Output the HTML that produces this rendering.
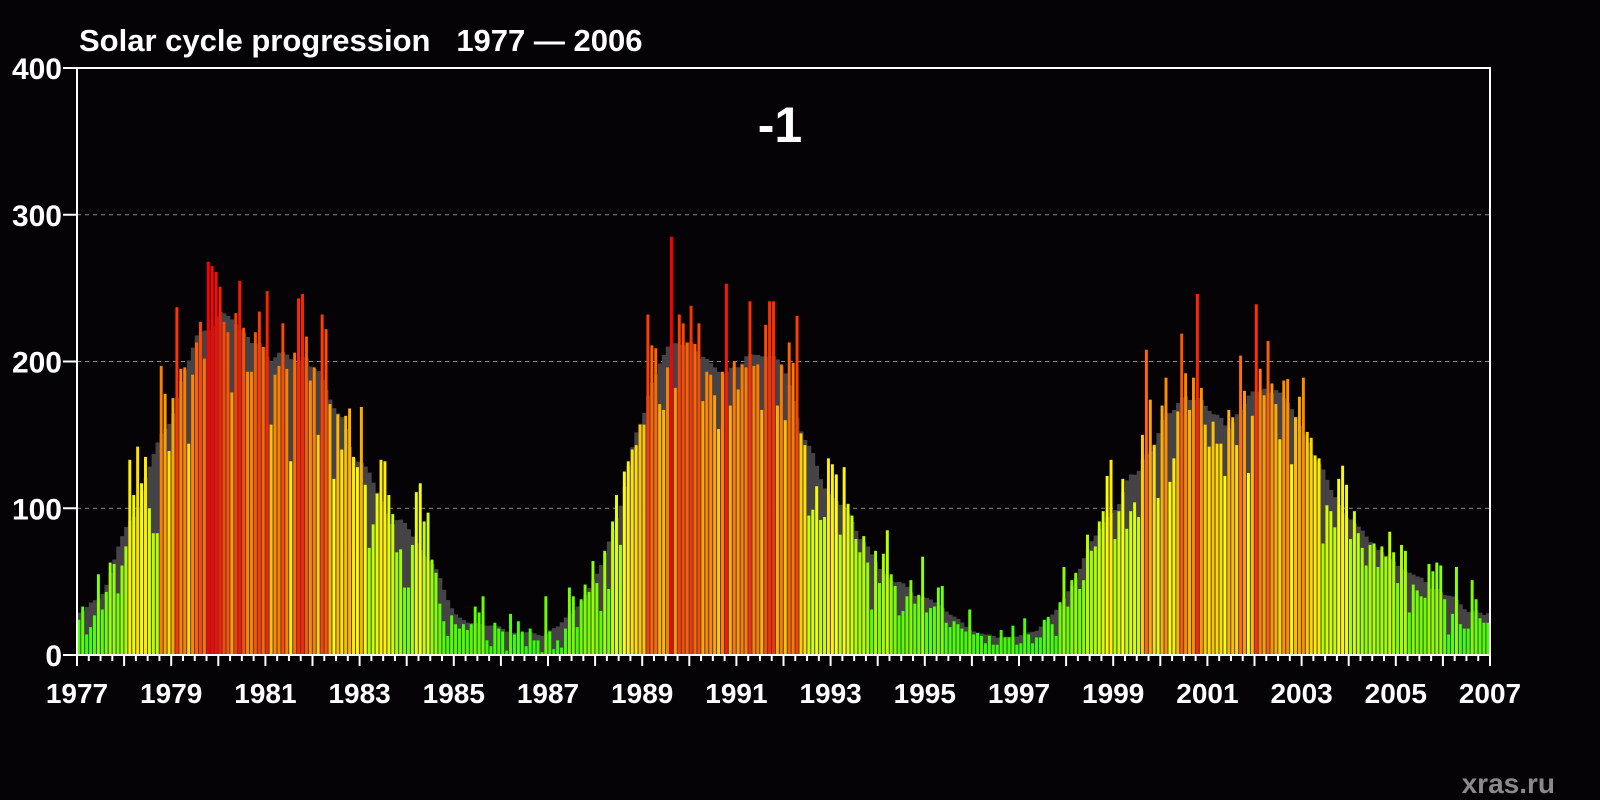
<!DOCTYPE html>
<html><head><meta charset="utf-8"><style>
html,body{margin:0;padding:0;background:#050305;}
svg{display:block;}
text{font-family:"Liberation Sans",sans-serif;font-weight:bold;}
</style></head><body>
<svg id="chart" width="1600" height="800" viewBox="0 0 1600 800">
<rect x="0" y="0" width="1600" height="800" fill="#050305"/>
<text x="79" y="51" fill="#fff" font-size="31" xml:space="preserve">Solar cycle progression   1977 — 2006</text>
<text x="780" y="142" fill="#fff" font-size="50" text-anchor="middle">-1</text>
<text x="1555" y="793" fill="#8a8a8a" font-size="28" text-anchor="end">xras.ru</text>
<g id="grid"></g><g id="smooth"></g><g id="bars"></g><g id="axes"></g>
</svg>
<script>
const seg1=[24,33,14,19,27,55,31,43,63,62,42,61,74,133,109,142,117,135,100,83,83,197,178,139,175,237,195,196,144,191,213,227,202,268,265,261,251,227,220,179,233,255,223,193,193,220,234,210,248,157,191,197,226,195,132,206,243,246,217,187];
const seg2=[196,150,232,222,171,120,164,140,163,168,135,128,169,116,73,89,110,133,132,109,96,70,72,46,46,75,111,117,91,97,65,56,35,23,13,27,21,18,21,17,21,33,29,40,10,6,22,18,16,3,28,14,23,16,6,18,10,10,2,40];
const seg3=[16,4,10,5,18,46,40,19,38,48,43,64,49,30,71,45,91,109,75,125,132,140,143,157,157,232,211,209,171,167,196,285,182,232,226,213,238,212,226,173,193,191,177,154,193,253,170,200,181,198,196,241,197,198,167,225,241,241,170,198];
const seg4=[160,213,199,231,151,143,95,99,115,92,94,134,130,123,82,128,103,95,79,70,81,63,31,71,49,69,85,55,47,27,30,40,51,35,41,67,29,32,33,46,47,22,19,23,21,18,16,31,14,15,13,8,13,7,7,17,12,12,20,7];
const seg5=[8,25,14,8,12,12,24,26,21,13,36,60,33,51,56,45,51,82,71,74,91,98,122,133,79,98,120,86,98,104,94,150,208,174,143,107,170,189,118,134,166,219,192,167,189,246,182,157,142,159,144,144,122,167,162,143,204,180,124,163];
const seg6=[239,195,177,214,185,171,147,187,188,130,162,176,189,152,148,136,134,76,102,98,87,120,129,116,79,98,83,73,61,75,76,60,74,67,84,70,49,75,71,29,48,44,40,39,62,57,63,61,38,14,28,60,21,18,18,51,38,25,22,22];
const monthly=[].concat(seg1,seg2,seg3,seg4,seg5,seg6).slice(0,360);
const yTicks=[0,100,200,300,400];
const gridValues=[100,200,300];
const yearLabels=[1977,1979,1981,1983,1985,1987,1989,1991,1993,1995,1997,1999,2001,2003,2005,2007];
const X0=77,X1=1490,Y0=655,Y1=68,startYear=1977,endYear=2007,yMax=400;
const NS='http://www.w3.org/2000/svg';
function xYear(y){return X0+(y-startYear)/(endYear-startYear)*(X1-X0);}
function xMonth(i){return xYear(startYear+i/12);}
function yVal(v){return Y0-v/yMax*(Y0-Y1);}
function mk(tag,attrs,parent){const e=document.createElementNS(NS,tag);for(const k in attrs)e.setAttribute(k,attrs[k]);parent.appendChild(e);return e;}
const smoothed=monthly.map((v,i)=>{let s=0,w=0;for(let k=-6;k<=6;k++){const j=i+k;if(j<0||j>=monthly.length)continue;const wt=(Math.abs(k)===6)?0.5:1;s+=monthly[j]*wt;w+=wt;}return s/w;});
function color(v){const h=Math.max(0,112-0.42*v);return 'hsl('+h.toFixed(1)+',100%,50%)';}
const grid=document.getElementById('grid'),sm=document.getElementById('smooth'),bars=document.getElementById('bars'),axes=document.getElementById('axes');
gridValues.forEach(v=>{
const l=mk('line',{x1:X0,x2:X1,y1:yVal(v),y2:yVal(v),stroke:'#8a8a8a','stroke-width':1,'stroke-dasharray':'4,4'},grid);


});
const mw=(X1-X0)/((endYear-startYear)*12);
smoothed.forEach((v,i)=>{
const r=mk('rect',{x:xMonth(i),y:yVal(v),width:mw+0.3,height:Y0-yVal(v),fill:'#454345'},sm);


});
monthly.forEach((v,i)=>{
const r=mk('rect',{x:xMonth(i)+0.3,y:yVal(v),width:mw*0.75,height:Y0-yVal(v),fill:color(v)},bars);


});
const frame=mk('path',{d:'M'+X0+' '+Y1+' L'+X1+' '+Y1+' L'+X1+' '+Y0+' M'+X0+' '+Y1+' L'+X0+' '+Y0+' L'+X1+' '+Y0,stroke:'#fff','stroke-width':2,fill:'none'},axes);


yTicks.forEach(v=>{
const t=mk('line',{x1:X0-14,x2:X0,y1:yVal(v),y2:yVal(v),stroke:'#fff','stroke-width':2},axes);


const tx=mk('text',{x:X0-15,y:yVal(v)+11,fill:'#fff','font-size':30,'text-anchor':'end'},axes);
tx.textContent=v;


});
for(let q=0;q<=(endYear-startYear)*4;q++){
const x=xYear(startYear+q/4);const major=q%4===0;
const t=mk('line',{x1:x,x2:x,y1:Y0,y2:Y0+(major?11:6),stroke:'#fff','stroke-width':2},axes);


}
yearLabels.forEach(y=>{
const tx=mk('text',{x:xYear(y),y:703,fill:'#fff','font-size':28,'text-anchor':'middle'},axes);
tx.textContent=y;


});
</script>
</body></html>
